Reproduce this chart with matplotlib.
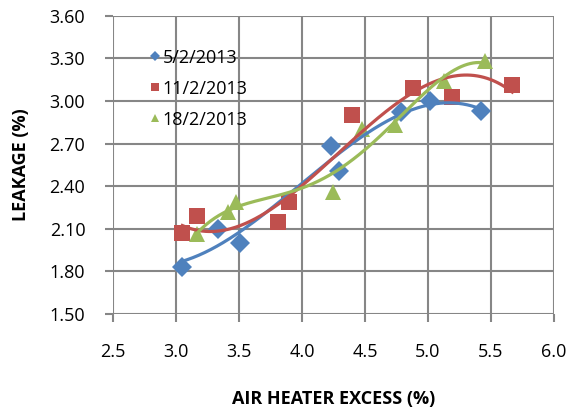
import numpy as np
import matplotlib
matplotlib.use('Agg')
import matplotlib.pyplot as plt

plt.rcParams['font.family'] = ['Open Sans', 'DejaVu Sans']

# data
labels = ['5/2/2013', '11/2/2013', '18/2/2013']

x_5feb = [3.05, 3.33, 3.51, 4.23, 4.29, 4.79, 5.02, 5.42]
y_5feb = [1.83, 2.10, 2.00, 2.68, 2.51, 2.92, 3.00, 2.93]

x_11feb = [3.05, 3.17, 3.81, 3.90, 4.40, 4.88, 5.19, 5.67]
y_11feb = [2.07, 2.19, 2.15, 2.29, 2.90, 3.09, 3.03, 3.11]

x_18feb = [3.17, 3.41, 3.48, 4.25, 4.48, 4.74, 5.13, 5.45]
y_18feb = [2.06, 2.22, 2.29, 2.36, 2.80, 2.83, 3.14, 3.28]

colors = ['#4F81BD', '#C0504D', '#9BBB59']
markers = ['D', 's', '^']
msizes = [10, 11.5, 12]
orders = [3, 3, 4]   # trendline polynomial order

fig = plt.figure(figsize=(5.71, 4.07), dpi=100)
ax = fig.add_axes([0.198, 0.229, 0.772, 0.732])

series = [(x_5feb, y_5feb), (x_11feb, y_11feb), (x_18feb, y_18feb)]
for (xs, ys), c, m, ms, n, lab in zip(series, colors, markers, msizes, orders, labels):
    ax.plot(xs, ys, linestyle='none', marker=m, markersize=ms, color=c,
            markeredgewidth=0, label=lab, zorder=3)
    # excel style polynomial trendline
    coef = np.polyfit(xs, ys, n)
    xx = np.linspace(min(xs), max(xs), 200)
    ax.plot(xx, np.polyval(coef, xx), color=c, linewidth=2.3, zorder=4)

ax.set_xlim(2.5, 6.0)
ax.set_ylim(1.5, 3.6)
ax.set_xticks(np.arange(2.5, 6.01, 0.5))
ax.set_yticks(np.arange(1.5, 3.61, 0.3))
ax.set_xticklabels([f'{v:.1f}' for v in np.arange(2.5, 6.01, 0.5)])
ax.set_yticklabels([f'{v:.2f}' for v in np.arange(1.5, 3.61, 0.3)])
ax.grid(True, color='#868686', linewidth=1.5)
ax.set_axisbelow(True)
for s in ax.spines.values():
    s.set_visible(False)
ax.tick_params(axis='both', length=6, width=1.5, color='#868686',
               labelsize=13, labelcolor='black')
ax.tick_params(axis='x', pad=15)
ax.tick_params(axis='y', pad=14)

ax.set_xlabel('AIR HEATER EXCESS (%)', fontsize=13, fontweight='bold', labelpad=21)
ax.set_ylabel('LEAKAGE (%)', fontsize=13, fontweight='bold', labelpad=14)

leg = ax.legend(loc='upper left', bbox_to_anchor=(0.045, 0.945), frameon=False,
                fontsize=13, handletextpad=0.05, handlelength=0.7,
                labelspacing=0.72, markerscale=0.5)

fig.savefig('out.png', dpi=100)
